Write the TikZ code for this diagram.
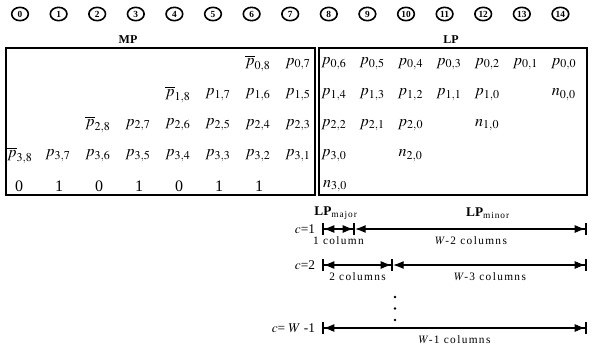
\documentclass[tikz,border=0pt]{standalone}
\usepackage{mathptmx}
\usepackage{fontspec}
\setmainfont{Liberation Serif}
\usetikzlibrary{arrows.meta, positioning, shapes.geometric}

\begin{document}
\begin{tikzpicture}[
    x=0.75pt, y=-0.75pt,
    colnum/.style={draw, ellipse, line width=1.2pt, inner sep=0.5pt, minimum width=12.5pt, minimum height=10pt, font=\fontsize{7}{7}\selectfont\bfseries},
    entry/.style={inner sep=0pt, font=\fontsize{12}{12}\selectfont},
    frame/.style={draw, line width=1.3pt, minimum height=110.25pt, inner sep=0pt},
    head/.style={font=\fontsize{9}{9}\selectfont\bfseries},
    cval/.style={font=\fontsize{10}{10}\selectfont, inner sep=1pt},
    count/.style={font=\fontsize{8.5}{8.5}\selectfont\addfontfeatures{LetterSpace=12}, inner sep=0pt, below=5pt},
    span/.style={line width=1pt, {Bar[width=9pt,line width=1.2pt]Latex[length=8pt,width=6pt]}-{Latex[length=8pt,width=6pt]Bar[width=9pt,line width=1.2pt]}},
    spanrest/.style={line width=1pt, {Latex[length=8pt,width=6pt]}-{Latex[length=8pt,width=6pt]Bar[width=9pt,line width=1.2pt]}}
]
\useasboundingbox (0,0) rectangle (592,347);

% column numbers
\foreach \i in {0,...,14}
  \node[colnum] (n\i) at ({20+38.6*\i},14) {\i};

% the two parts
\node[frame, minimum width=231.75pt] (mp) at (160.5,121.5) {};
\node[frame, minimum width=201pt] (lp) at (453,121.5) {};
\node[head] (mplabel) at (128,40) {MP};
\node[head] (lplabel) at (451,40) {LP};

% row 0
\node[entry] (e-0-6) at ({18+40*6},64) {$\overline{p}_{0,8}$};
\node[entry] (e-0-7) at ({18+40*7},64) {$p_{0,7}$};
\foreach \c/\k in {8/6,9/5,10/4,11/3,12/2,13/1,14/0}
  \node[entry] (e-0-\c) at ({334+38.3*(\c-8)},64) {$p_{0,\k}$};

% row 1
\node[entry] (e-1-4) at ({18+40*4},94.5) {$\overline{p}_{1,8}$};
\foreach \c/\k in {5/7,6/6,7/5}
  \node[entry] (e-1-\c) at ({18+40*\c},94.5) {$p_{1,\k}$};
\foreach \c/\k in {8/4,9/3,10/2,11/1,12/0}
  \node[entry] (e-1-\c) at ({334+38.3*(\c-8)},94.5) {$p_{1,\k}$};
\node[entry] (e-1-14) at ({334+38.3*6},94.5) {$n_{0,0}$};

% row 2
\node[entry] (e-2-2) at ({18+40*2},125) {$\overline{p}_{2,8}$};
\foreach \c/\k in {3/7,4/6,5/5,6/4,7/3}
  \node[entry] (e-2-\c) at ({18+40*\c},125) {$p_{2,\k}$};
\foreach \c/\k in {8/2,9/1,10/0}
  \node[entry] (e-2-\c) at ({334+38.3*(\c-8)},125) {$p_{2,\k}$};
\node[entry] (e-2-12) at ({334+38.3*4},125) {$n_{1,0}$};

% row 3
\node[entry] (e-3-0) at (20,155.5) {$\overline{p}_{3,8}$};
\foreach \c/\k in {1/7,2/6,3/5,4/4,5/3,6/2,7/1}
  \node[entry] (e-3-\c) at ({18+40*\c},155.5) {$p_{3,\k}$};
\node[entry] (e-3-8) at (334,155.5) {$p_{3,0}$};
\node[entry] (e-3-10) at ({334+38.3*2},155.5) {$n_{2,0}$};

% row 4
\foreach \c/\b in {0/0,1/1,2/0,3/1,4/0,5/1,6/1}
  \node[entry] (e-4-\c) at ({19+40*\c},186) {\b};
\node[entry] (e-4-8) at (335,186) {$n_{3,0}$};

% LP split
\node[head] (major) at (336,213) {{\fontsize{10}{10}\selectfont LP}\textsubscript{\mdseries\addfontfeatures{LetterSpace=10}major}};
\node[head] (minor) at (488,213) {{\fontsize{10}{10}\selectfont LP}\textsubscript{\mdseries\addfontfeatures{LetterSpace=10}minor}};

\coordinate (s1a) at (322,229);
\coordinate (s1b) at (355,229);
\coordinate (s1c) at (587,229);
\coordinate (s2a) at (322,265);
\coordinate (s2b) at (393,265);
\coordinate (s2c) at (587,265);
\coordinate (s3a) at (322,328);
\coordinate (s3c) at (587,328);

\node[cval, left=4pt of s1a] (c1) {$c$=1};
\node[cval, left=4pt of s2a] (c2) {$c$=2};
\node[cval, left=4pt of s3a] (c3) {$c$= $W$ -1};

\draw[span] (s1a) -- node[count] {1 column} (s1b);
\draw[spanrest] (s1b) -- node[count] {$W$-2 columns} (s1c);
\draw[span] (s2a) -- node[count] {2 columns} (s2b);
\draw[spanrest] (s2b) -- node[count] {$W$-3 columns} (s2c);
\draw[span] (s3a) -- node[count] {$W$-1 columns} (s3c);

\foreach \y in {297,308.5,320}
  \fill (395,\y) circle (1.3);

\end{tikzpicture}
\end{document}
